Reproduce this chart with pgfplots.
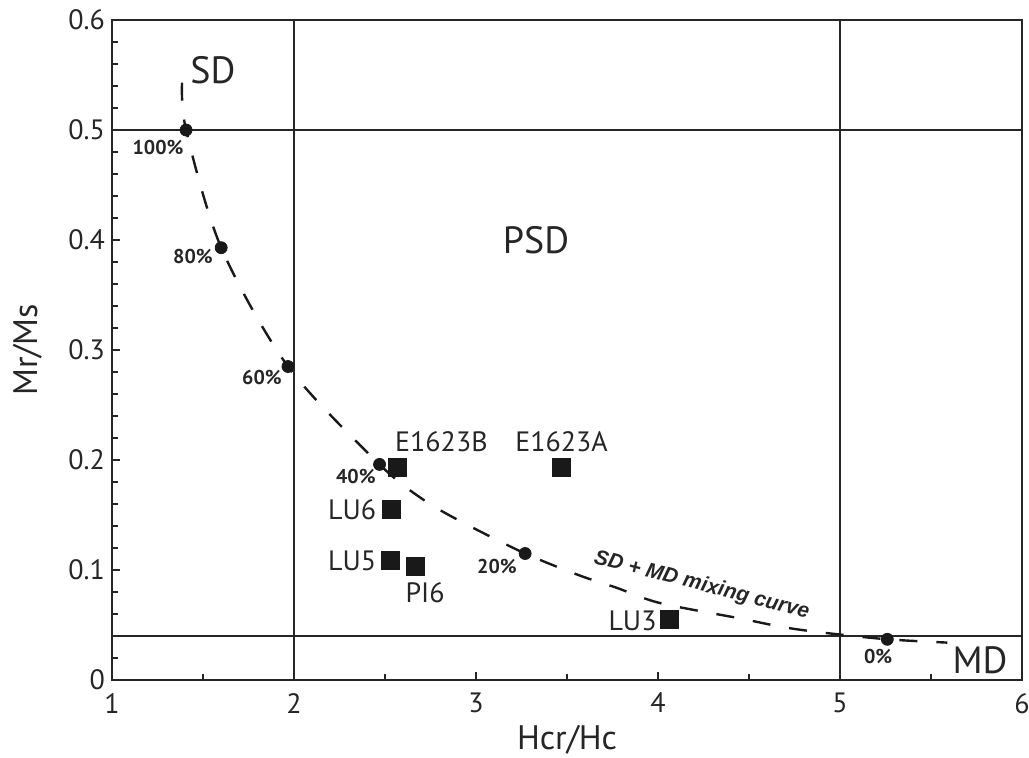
\documentclass[border=0pt]{standalone}
\usepackage{pgfplots}
\pgfplotsset{compat=1.18}
\usepackage{fontspec}
\setmainfont{PT Sans}
\newfontfamily\curvefont{Liberation Sans}
\begin{document}
\begin{tikzpicture}
\begin{axis}[
  at={(0,0)}, anchor=south west,
  scale only axis, width=455pt, height=330pt,
  xmin=1, xmax=6, ymin=0, ymax=0.6,
  xtick={1,2,3,4,5,6}, minor xtick={1.5,2.5,3.5,4.5,5.5},
  ytick={0,0.1,0.2,0.3,0.4,0.5,0.6},
  minor ytick={0.02,0.04,0.06,0.08,0.12,0.14,0.16,0.18,0.22,0.24,0.26,0.28,0.32,0.34,0.36,0.38,0.42,0.44,0.46,0.48,0.52,0.54,0.56,0.58},
  tick pos=left, tick align=inside,
  major tick length=4pt, minor tick length=3pt,
  every tick/.style={black!85, line width=0.8pt},
  axis line style={black!85, line width=1pt},
  /pgf/number format/assume math mode=true,
  ticklabel style={font=\fontsize{14}{16}\selectfont, text=black!85},
  xticklabel style={yshift=-3pt},
  yticklabel style={xshift=0pt},
  xlabel={Hcr/Hc}, ylabel={Mr/Ms},
  every axis x label/.style={at={(axis description cs:0.5,0)}, anchor=center, yshift=-30pt, font=\fontsize{17}{19}\selectfont, text=black!85},
  every axis y label/.style={at={(axis description cs:0,0.5)}, anchor=center, rotate=90, yshift=42pt, font=\fontsize{17}{19}\selectfont, text=black!85},
  clip=false,
]
% region boundaries
\addplot [black!85, line width=0.8pt] coordinates {(2,0) (2,0.6)};
\addplot [black!85, line width=0.8pt] coordinates {(5,0) (5,0.6)};
\addplot [black!85, line width=0.8pt] coordinates {(1,0.5) (6,0.5)};
\addplot [black!85, line width=0.8pt] coordinates {(1,0.04) (6,0.04)};
% mixing curve
\addplot [black!90, line width=1.2pt, dash pattern=on 9pt off 9.5pt, smooth, tension=0.5] coordinates {
(1.385,0.543) (1.407,0.5) (1.60,0.393) (1.967,0.285) (2.47,0.196) (2.71,0.164) (2.93,0.143)
(3.27,0.115) (3.57,0.095) (3.77,0.084) (4.01,0.070) (4.45,0.056) (4.69,0.048) (4.91,0.043)
(5.26,0.037) (5.59,0.034)};
% mixing points
\addplot [only marks, mark=*, mark size=3pt, black!90] coordinates {
(1.407,0.5) (1.60,0.393) (1.967,0.285) (2.47,0.196) (3.27,0.115) (5.26,0.037)};
% samples
\addplot [only marks, mark=square*, mark size=4.5pt, black!90] coordinates {
(2.566,0.193) (3.47,0.193) (2.533,0.155) (2.527,0.109) (2.665,0.103) (4.06,0.055)};
% region labels
\node [font=\fontsize{19}{21}\selectfont, text=black!85] at (axis cs:1.555,0.5545) {SD};
\node [font=\fontsize{19}{21}\selectfont, text=black!85] at (axis cs:3.33,0.4) {PSD};
\node [font=\fontsize{19}{21}\selectfont, text=black!85] at (axis cs:5.77,0.018) {MD};
% sample labels
\node [font=\fontsize{14}{16}\selectfont, text=black!85] at (axis cs:2.81,0.217) {E1623B};
\node [font=\fontsize{14}{16}\selectfont, text=black!85] at (axis cs:3.47,0.217) {E1623A};
\node [font=\fontsize{14}{16}\selectfont, text=black!85] at (axis cs:2.32,0.155) {LU6};
\node [font=\fontsize{14}{16}\selectfont, text=black!85] at (axis cs:2.32,0.108) {LU5};
\node [font=\fontsize{14}{16}\selectfont, text=black!85] at (axis cs:2.72,0.079) {PI6};
\node [font=\fontsize{14}{16}\selectfont, text=black!85] at (axis cs:3.86,0.054) {LU3};
% percent labels
\node [font=\fontsize{10}{12}\selectfont\bfseries, text=black!85] at (axis cs:1.253,0.484) {100\%};
\node [font=\fontsize{10}{12}\selectfont\bfseries, text=black!85] at (axis cs:1.445,0.385) {80\%};
\node [font=\fontsize{10}{12}\selectfont\bfseries, text=black!85] at (axis cs:1.824,0.275) {60\%};
\node [font=\fontsize{10}{12}\selectfont\bfseries, text=black!85] at (axis cs:2.34,0.185) {40\%};
\node [font=\fontsize{10}{12}\selectfont\bfseries, text=black!85] at (axis cs:3.115,0.103) {20\%};
\node [font=\fontsize{10}{12}\selectfont\bfseries, text=black!85] at (axis cs:5.21,0.021) {0\%};
\node [font=\curvefont\fontsize{10.5}{12}\selectfont\bfseries\itshape, text=black!85, rotate=-14.3] at (axis cs:4.24,0.086) {SD + MD mixing curve};
\end{axis}
\pgfresetboundingbox
\path (-56pt,-38.5pt) rectangle (458.5pt,340pt);
\end{tikzpicture}
\end{document}
